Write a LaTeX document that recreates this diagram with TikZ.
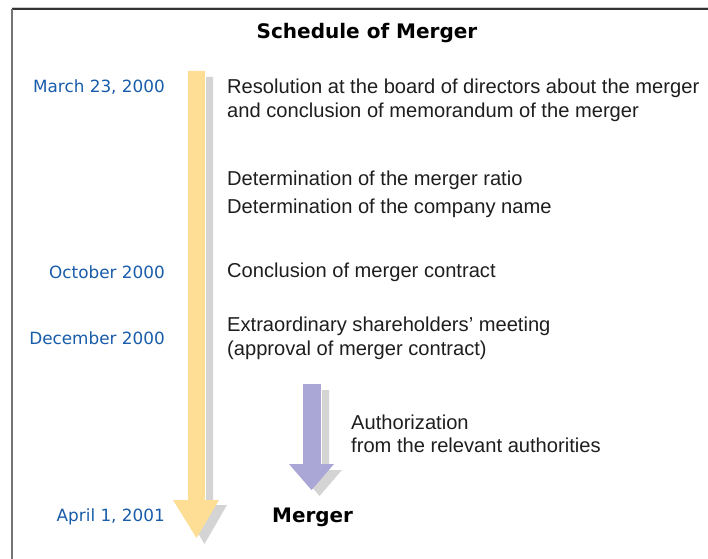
\documentclass[tikz,border=0pt]{standalone}
\usepackage{fontspec}
\setmainfont{Liberation Sans}
\newfontfamily\dejavu{DejaVu Sans}
\definecolor{datecol}{RGB}{24,92,170}
\definecolor{txtcol}{RGB}{30,30,30}
\definecolor{yarrow}{RGB}{253,222,148}
\definecolor{parrow}{RGB}{170,166,214}
\definecolor{shadowcol}{RGB}{205,205,205}
\begin{document}
\begin{tikzpicture}[x=1bp,y=-1bp,
  datelbl/.style={anchor=east,inner sep=0pt,text=datecol,font=\dejavu\fontsize{16.9}{20}\selectfont},
  itemlbl/.style={anchor=west,inner sep=0pt,text=txtcol,font=\fontsize{20.2}{24}\selectfont},
  arrowshadow/.style={fill=shadowcol,draw=none,opacity=0.85}]
\useasboundingbox (0,0) rectangle (708,559);
\fill[white] (0,0) rectangle (708,559);
% frame
\draw[black!20,line width=1bp] (12,7.5) -- (708,7.5);
\draw[black!80,line width=1.6bp] (12,9) -- (708,9);
\draw[black!55,line width=1.6bp] (12,9) -- (12,559);
% title
\node[inner sep=0pt,font=\dejavu\bfseries\fontsize{20.1}{24}\selectfont,text=black] (title) at (367,33) {Schedule of Merger};
% yellow arrow shadow
\fill[arrowshadow] (196,77) -- (213,77) -- (213,505) -- (227,505) -- (204.5,544) -- (181,505) -- (196,505) -- cycle;
% yellow arrow
\fill[yarrow] (188,71) -- (205,71) -- (205,500) -- (219,500) -- (196.5,538) -- (173,500) -- (188,500) -- cycle;
\draw[white,line width=0.8bp] (205.5,71) -- (205.5,500);
% purple arrow shadow
\fill[arrowshadow] (311,390) -- (329,390) -- (329,470) -- (342,470) -- (319.5,496) -- (297,470) -- (311,470) -- cycle;
% purple arrow
\fill[parrow] (303,384) -- (321,384) -- (321,464) -- (334,464) -- (311.5,490) -- (289,464) -- (303,464) -- cycle;
\draw[white,line width=0.8bp] (321.5,384) -- (321.5,464);
% dates
\node[datelbl] (d1) at (165,87) {March 23, 2000};
\node[datelbl] (d2) at (165,272) {October 2000};
\node[datelbl] (d3) at (165,338) {December 2000};
\node[datelbl] (d4) at (165,517) {April 1, 2001};
% items
\node[itemlbl] (i1a) at (227,88) {Resolution at the board of directors about the merger};
\node[itemlbl] (i1b) at (227,112) {and conclusion of memorandum of the merger};
\node[itemlbl] (i2a) at (227,180) {Determination of the merger ratio};
\node[itemlbl] (i2b) at (227,208) {Determination of the company name};
\node[itemlbl] (i3) at (227,272) {Conclusion of merger contract};
\node[itemlbl] (i4a) at (227,326) {Extraordinary shareholders’ meeting};
\node[itemlbl] (i4b) at (227,350) {(approval of merger contract)};
\node[itemlbl] (a1) at (351,422) {Authorization};
\node[itemlbl] (a2) at (351,445) {from the relevant authorities};
\node[anchor=west,inner sep=0pt,font=\dejavu\bfseries\fontsize{20}{24}\selectfont,text=black] (merger) at (272,517) {Merger};
\end{tikzpicture}
\end{document}
